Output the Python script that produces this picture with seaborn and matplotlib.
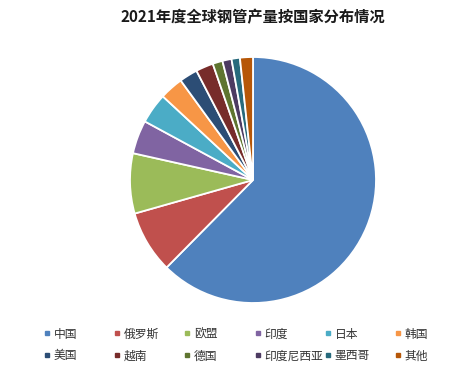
import matplotlib
matplotlib.use("Agg")
import matplotlib.pyplot as plt
from matplotlib.lines import Line2D
import seaborn as sns

countries = ["中国", "俄罗斯", "欧盟", "印度", "日本", "韩国",
             "美国", "越南", "德国", "印度尼西亚", "墨西哥", "其他"]
shares = [62.4, 8.2, 7.9, 4.4, 4.0, 3.1, 2.4, 2.3, 1.3, 1.2, 1.1, 1.7]
colors = ["#4F81BD", "#C0504D", "#9BBB59", "#8064A2", "#4BACC6", "#F79646",
          "#2C4D75", "#772C2A", "#5F7530", "#4D3B62", "#276A7C", "#B65708"]
title = "2021年度全球钢管产量按国家分布情况"

sns.set_theme(style="white")
palette = sns.color_palette(colors)
plt.rcParams['font.family'] = ['Noto Sans CJK SC', 'DejaVu Sans']

W, H = 461, 367
fig = plt.figure(figsize=(W / 100, H / 100), dpi=100)
fig.patch.set_facecolor("white")

cx, cy, r = 253, 180, 123
ax = fig.add_axes([(cx - r) / W, 1 - (cy + r) / H, 2 * r / W, 2 * r / H])
ax.pie(shares, colors=palette, startangle=90, counterclock=False, radius=1,
       wedgeprops=dict(edgecolor="white", linewidth=1.3))
ax.set_xlim(-1, 1)
ax.set_ylim(-1, 1)
ax.set_aspect("equal")
ax.axis("off")

fig.text(252.5 / W, 1 - 17.5 / H, title, ha="center", va="center",
         fontsize=11, fontweight="bold", color="#1a1a1a")

col_x = [47, 117, 187, 258, 328, 398]
rows_y = (334 + 356) / 2
for i, x in enumerate(col_x):
    idx = [i, i + 6]
    handles = [Line2D([], [], marker="s", linestyle="", color=palette[j],
                      markersize=3.5) for j in idx]
    fig.legend(handles, [countries[j] for j in idx], loc="center left",
               bbox_to_anchor=((x - 4) / W, 1 - rows_y / H), frameon=False,
               fontsize=8.5, handlelength=0.6, handletextpad=0.3,
               borderpad=0, borderaxespad=0, labelspacing=0.75,
               labelcolor="#333333")

fig.savefig("out.png", dpi=100, facecolor="white")
